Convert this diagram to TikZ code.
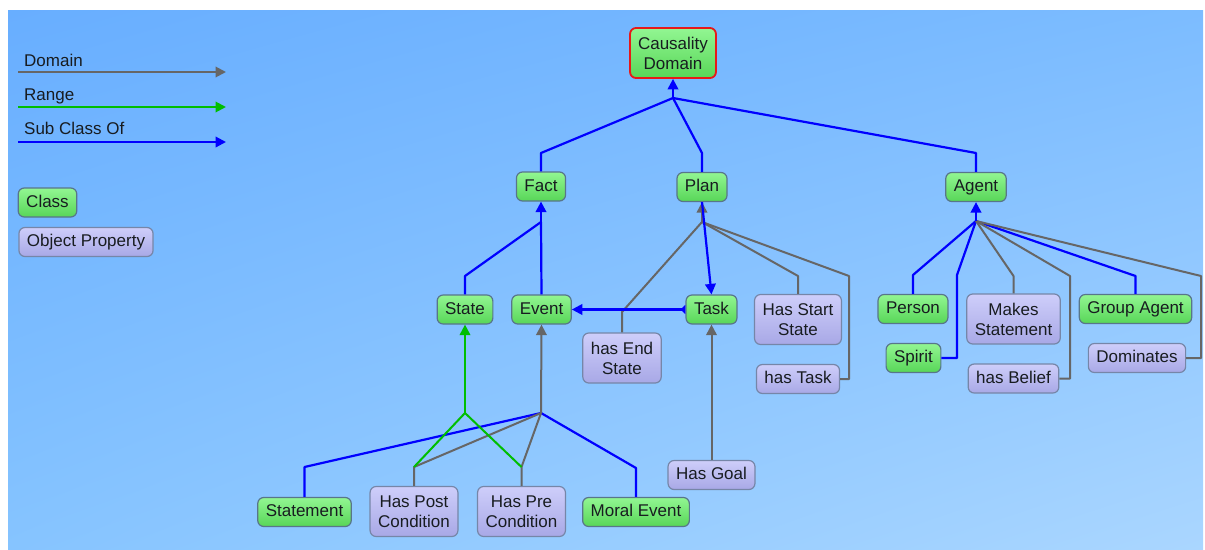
\documentclass[tikz,border=0pt]{standalone}
\usepackage{fontspec}
\setmainfont{Liberation Sans}
\usetikzlibrary{arrows.meta,shadings}
\definecolor{bgA}{RGB}{104,174,255}
\definecolor{bgB}{RGB}{124,188,255}
\definecolor{bgC}{RGB}{134,196,255}
\definecolor{bgD}{RGB}{170,214,255}
\definecolor{clstop}{RGB}{146,246,146}
\definecolor{clsbot}{RGB}{88,214,88}
\definecolor{clsborder}{RGB}{88,118,138}
\definecolor{proptop}{RGB}{206,206,250}
\definecolor{propbot}{RGB}{168,168,230}
\definecolor{propborder}{RGB}{118,134,168}
\definecolor{txt}{RGB}{24,28,32}
\definecolor{domc}{RGB}{102,102,102}
\definecolor{rngc}{RGB}{0,190,0}
\definecolor{subc}{RGB}{0,0,255}
\definecolor{rootred}{RGB}{232,24,24}
\newcommand\nodefont{\fontsize{17}{20}\selectfont}
\begin{document}
\begin{tikzpicture}[x=1pt,y=-1pt,
  box/.style={rounded corners=6pt, inner xsep=8pt, inner ysep=0pt, font=\nodefont, text=txt, line width=1.2pt},
  cls/.style={box, draw=clsborder, top color=clstop, bottom color=clsbot},
  prop/.style={box, draw=propborder, top color=proptop, bottom color=propbot},
  single/.style={minimum height=29pt, text height=12.5pt, text depth=3.5pt},
  double/.style={minimum height=50pt, align=center},
  legtext/.style={font=\nodefont, text=txt, inner sep=0pt, anchor=base west},
  tip/.style={-{Triangle[length=10.5pt,width=10.5pt]}},
  dom/.style={draw=domc, line width=2pt, line join=round},
  rng/.style={draw=rngc, line width=2pt, line join=round},
  sub/.style={draw=subc, line width=2.2pt, line join=round}
]
\useasboundingbox (0,0) rectangle (1205,549);
\fill[white] (0,0) rectangle (1205,549);
\shade[upper left=bgA, upper right=bgB, lower left=bgC, lower right=bgD] (8,10) rectangle (1203,549);

% junctions
\coordinate (jC) at (673,98);
\coordinate (jF) at (541,222);
\coordinate (jP) at (702,222);
\coordinate (jA) at (976,221);
\coordinate (jE) at (541,413);
\coordinate (jS) at (465,413);

% legend
\node[legtext] (lgd) at (24,66) {Domain};
\node[legtext] (lgr) at (24,100) {Range};
\node[legtext] (lgs) at (24,134) {Sub Class Of};
\coordinate (ld1) at (18,72);  \coordinate (ld2) at (226,72);
\coordinate (lr1) at (18,107); \coordinate (lr2) at (226,107);
\coordinate (ls1) at (18,142); \coordinate (ls2) at (226,142);
\draw[dom,tip] (ld1) -- (ld2);
\draw[rng,tip] (lr1) -- (lr2);
\draw[sub,tip] (ls1) -- (ls2);
\node[cls,single] (lcls) at (47.5,202.5) {Class};
\node[prop,single] (lprop) at (86,242) {Object Property};

% nodes
\node[cls,double,draw=rootred,line width=1.8pt] (CD) at (673,53) {Causality\\Domain};
\node[cls,single] (Fact) at (541,186.5) {Fact};
\node[cls,single] (Plan) at (702,187) {Plan};
\node[cls,single] (Agent) at (976,187) {Agent};
\node[cls,single] (State) at (465,309.5) {State};
\node[cls,single] (Event) at (541.5,309.5) {Event};
\node[cls,single] (Task) at (711.5,309.5) {Task};
\node[prop,double] (HSS) at (798,319.5) {Has Start\\State};
\node[prop,double] (HES) at (622,358) {has End\\State};
\node[prop,single] (HT) at (798,379) {has Task};
\node[prop,single] (HG) at (711.5,475) {Has Goal};
\node[cls,single] (Person) at (913,309) {Person};
\node[prop,double] (MS) at (1013.5,319) {Makes\\Statement};
\node[cls,single] (GA) at (1135.5,309) {Group Agent};
\node[cls,single] (Spirit) at (913.5,358) {Spirit};
\node[prop,single] (HB) at (1013.5,378.5) {has Belief};
\node[prop,single] (Dom) at (1137,358) {Dominates};
\node[cls,single] (St) at (304.5,512) {Statement};
\node[prop,double] (HPost) at (414,511.5) {Has Post\\Condition};
\node[prop,double] (HPre) at (521.5,511.5) {Has Pre\\Condition};
\node[cls,single] (ME) at (636,512) {Moral Event};

% top level
\draw[sub] (Fact.north) -- (Fact.north |- 0,153) -- (jC);
\draw[sub] (Plan.north) -- (Plan.north |- 0,153) -- (jC);
\draw[sub] (Agent.north) -- (Agent.north |- 0,153) -- (jC);
\draw[sub,tip] (jC) -- (CD.south);
% fact
\draw[sub] (State.north) -- (State.north |- 0,276) -- (jF);
\draw[sub] (Event.north) -- (jF);
\draw[sub,tip] (jF) -- (Fact.south);
% plan
\draw[dom] (HES.north) -- (HES.north |- 0,312) -- (jP);
\draw[dom] (HSS.north) -- (HSS.north |- 0,276) -- (jP);
\draw[dom] (HT.east) -| (849,276) -- (jP);
\draw[dom,tip] (jP) -- (Plan.south);
\draw[sub,tip] (Plan.south) -- (Task.north);
\draw[sub,{Triangle[reversed,length=5pt,width=9pt]}-{Triangle[length=10.5pt,width=10.5pt]}] (Task.west) -- (Event.east);
\draw[dom,tip] (HG.north) -- (Task.south);
% agent
\draw[sub] (Person.north) -- (Person.north |- 0,275) -- (jA);
\draw[sub] (Spirit.east) -| (957,275) -- (jA);
\draw[sub] (GA.north) -- (GA.north |- 0,276) -- (jA);
\draw[dom] (MS.north) -- (MS.north |- 0,276) -- (jA);
\draw[dom] (HB.east) -| (1070,276) -- (jA);
\draw[dom] (Dom.east) -| (1201,276) -- (jA);
\draw[sub,tip] (jA) -- (Agent.south);
% event / state
\draw[sub] (St.north) -- (St.north |- 0,467) -- (jE);
\draw[sub] (ME.north) -- (ME.north |- 0,468) -- (jE);
\draw[dom] (HPost.north) -- (HPost.north |- 0,467) -- (jE);
\draw[dom] (HPre.north) -- (HPre.north |- 0,467) -- (jE);
\draw[rng] (HPost.north |- 0,467) -- (jS);
\draw[rng] (HPre.north |- 0,467) -- (jS);
\draw[dom,tip] (jE) -- (Event.south);
\draw[rng,tip] (jS) -- (State.south);
\end{tikzpicture}
\end{document}
